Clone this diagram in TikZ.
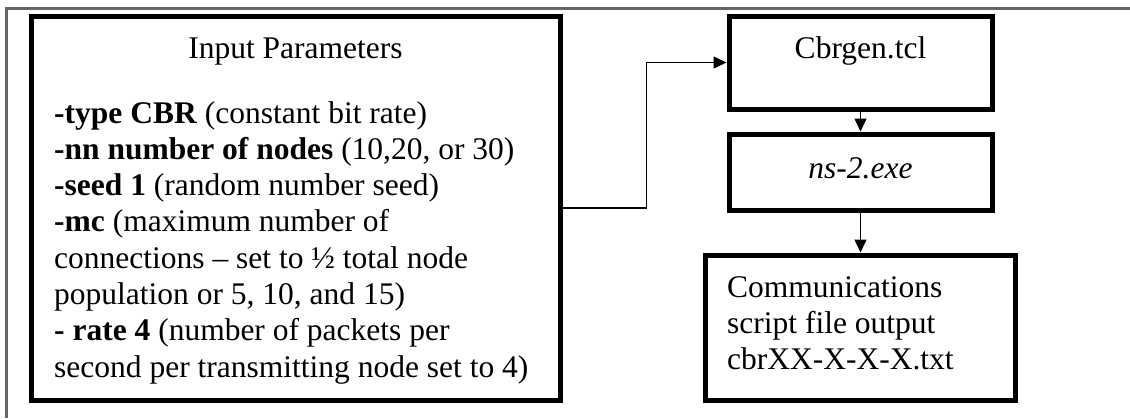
\documentclass[tikz,border=0pt]{standalone}
\usepackage{fontspec}
\setmainfont{Liberation Serif}
\usetikzlibrary{arrows.meta}
\begin{document}
\begin{tikzpicture}[x=1pt,y=-1pt,
  box/.style={draw, line width=5pt, inner sep=0pt, rectangle},
  conn/.style={line width=1.5pt, -{Triangle[length=13pt,width=12pt]}},
  txt/.style={inner sep=0pt, font=\fontsize{31.5}{36.3}\selectfont},
  frame/.style={draw=black!60, line width=3pt}]
\useasboundingbox (0,0) rectangle (1130,418);
% outer frame (only top and left visible)
\draw[frame] (6.5,418) -- (6.5,8.5) -- (1130,8.5);
% boxes
\node[box, minimum width=529pt, minimum height=384pt] (inp) at (295.5,208) {};
\node[box, minimum width=263pt, minimum height=93pt] (cbr) at (860.5,62.5) {};
\node[box, minimum width=263pt, minimum height=76pt] (ns) at (860.5,172) {};
\node[box, minimum width=310pt, minimum height=145pt] (com) at (860,327.5) {};
% texts
\node[txt, anchor=base] (inph) at (inp.center |- 0,58) {Input Parameters};
\node[txt, anchor=base west] (inpb) at (54,123) {\parbox[t]{500pt}{\raggedright
  \textbf{-type CBR} (constant bit rate)\\
  \textbf{-nn number of nodes} (10,20, or 30)\\
  \textbf{-seed 1} (random number seed)\\
  \textbf{-mc} (maximum number of\\
  connections – set to ½ total node\\
  population or 5, 10, and 15)\\
  \textbf{- rate 4} (number of packets per\\
  second per transmitting node set to 4)}};
\node[txt, anchor=base] (cbrt) at (cbr.center |- 0,58) {Cbrgen.tcl};
\node[txt, anchor=base] (nst) at (ns.center |- 0,178) {\itshape ns-2.exe};
\node[txt, anchor=base west] (comt) at (727,297) {\parbox[t]{280pt}{\raggedright
  Communications\\
  script file output\\
  cbrXX-X-X-X.txt}};
% connectors
\draw[conn] (inp.east) -- ++(84,0) |- (cbr.west);
\draw[conn] (cbr.south) -- (ns.north);
\draw[conn] (ns.south) -- (ns.south |- com.north);
\end{tikzpicture}
\end{document}
